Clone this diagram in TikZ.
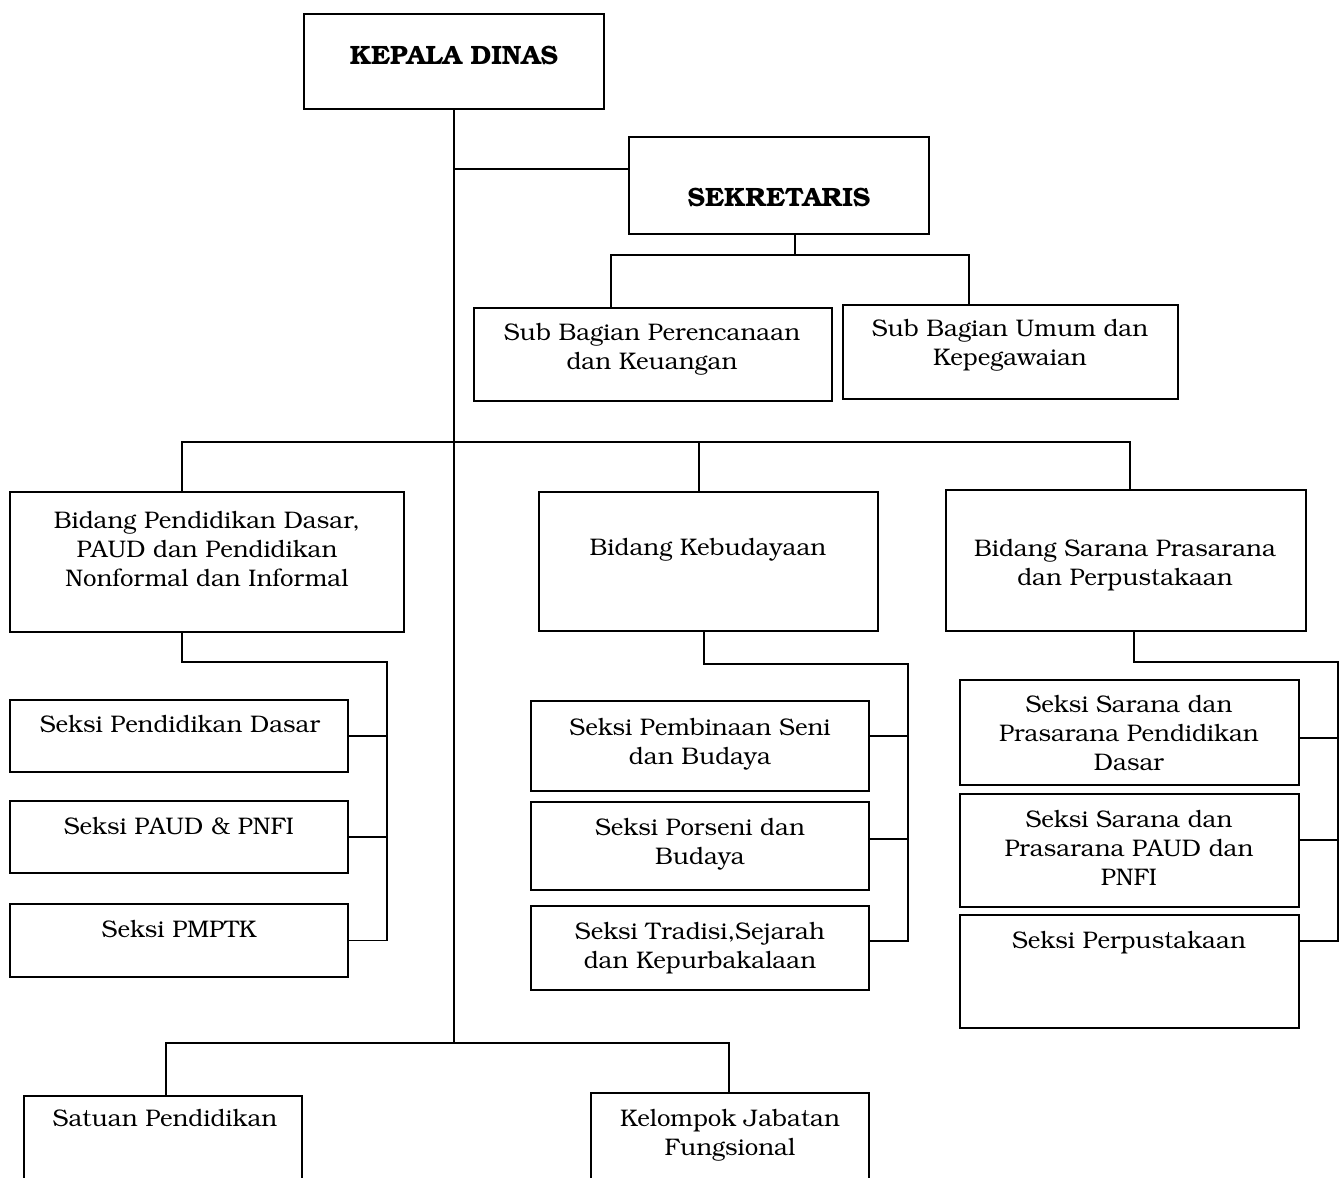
\documentclass[tikz,border=0pt]{standalone}
\usepackage[T1]{fontenc}
\usepackage{bookman}
\usetikzlibrary{fit}
\tikzset{
  box/.style={draw, line width=1.8pt, inner sep=0pt},
  lbl/.style={inner sep=0pt, align=center, anchor=base, font=\fontsize{24}{29}\selectfont},
  hd/.style={inner sep=0pt, align=center, anchor=base, font=\fontsize{26.5}{30}\selectfont\bfseries},
  ln/.style={line width=1.8pt}
}
\begin{document}
\begin{tikzpicture}[x=1pt,y=-1pt]
\useasboundingbox (0,0) rectangle (1342,1178);
\clip (0,0) rectangle (1342,1178);
% boxes
\node[box, fit={(304,14)(604,109)}] (kd) {};
\node[box, fit={(629,137)(929,234)}] (sek) {};
\node[box, fit={(474,308)(832,401)}] (sp) {};
\node[box, fit={(843,305)(1178,399)}] (su) {};
\node[box, fit={(10,492)(404,632)}] (b1) {};
\node[box, fit={(539,492)(878,631)}] (b2) {};
\node[box, fit={(946,490)(1306,631)}] (b3) {};
\node[box, fit={(10,700)(348,772)}] (s11) {};
\node[box, fit={(10,801)(348,873)}] (s12) {};
\node[box, fit={(10,904)(348,977)}] (s13) {};
\node[box, fit={(531,701)(869,791)}] (s21) {};
\node[box, fit={(531,802)(869,890)}] (s22) {};
\node[box, fit={(531,906)(869,990)}] (s23) {};
\node[box, fit={(960,680)(1299,785)}] (s31) {};
\node[box, fit={(960,794)(1299,907)}] (s32) {};
\node[box, fit={(960,915)(1299,1028)}] (s33) {};
\node[box, fit={(24,1096)(302,1200)}] (t1) {};
\node[box, fit={(591,1093)(869,1200)}] (t2) {};
% texts (anchor = baseline of the last line)
\node[hd] (kdt) at (454,64) {KEPALA DINAS};
\node[hd] (sekt) at (779,206) {SEKRETARIS};
\node[lbl] (spt) at (652,369) {Sub Bagian Perencanaan\\dan Keuangan};
\node[lbl] (sut) at (1010,365) {Sub Bagian Umum dan\\Kepegawaian};
\node[lbl] (b1t) at (207,586) {Bidang Pendidikan Dasar,\\PAUD dan Pendidikan\\Nonformal dan Informal};
\node[lbl] (b2t) at (708,555) {Bidang Kebudayaan};
\node[lbl] (b3t) at (1125,585) {Bidang Sarana Prasarana\\dan Perpustakaan};
\node[lbl] (s11t) at (180,732) {Seksi Pendidikan Dasar};
\node[lbl] (s12t) at (179,834) {Seksi PAUD \& PNFI};
\node[lbl] (s13t) at (179,937) {Seksi PMPTK};
\node[lbl] (s21t) at (700,764) {Seksi Pembinaan Seni\\dan Budaya};
\node[lbl] (s22t) at (700,864) {Seksi Porseni dan\\Budaya};
\node[lbl] (s23t) at (700,968) {Seksi Tradisi,Sejarah\\dan Kepurbakalaan};
\node[lbl] (s31t) at (1129,770) {Seksi Sarana dan\\Prasarana Pendidikan\\Dasar};
\node[lbl] (s32t) at (1129,885) {Seksi Sarana dan\\Prasarana PAUD dan\\PNFI};
\node[lbl] (s33t) at (1129,948) {Seksi Perpustakaan};
\node[lbl] (t1t) at (165,1126) {Satuan Pendidikan};
\node[lbl] (t2t) at (730,1155) {Kelompok Jabatan\\Fungsional};
% junction coordinates
\coordinate (jS) at (454,169);
\coordinate (jE) at (454,1043);
\coordinate (sekD) at (795,255);
\coordinate (sL) at (611,255);
\coordinate (sR) at (969,255);
\coordinate (bL) at (182,442);
\coordinate (bM) at (699,442);
\coordinate (bR) at (1130,442);
\coordinate (l1) at (182,662);
\coordinate (lR) at (387,662);
\coordinate (m1) at (704,664);
\coordinate (mR) at (908,664);
\coordinate (m21) at (908,736);
\coordinate (m22) at (908,839);
\coordinate (m23) at (908,941);
\coordinate (r1) at (1134,662);
\coordinate (rR) at (1338,662);
\coordinate (r31) at (1338,738);
\coordinate (r32) at (1338,840);
\coordinate (r33) at (1338,941);
\coordinate (eL) at (166,1043);
\coordinate (eR) at (729,1043);
% connectors
\draw[ln] (kd.south) -- (jE);
\draw[ln] (jS) -- (sek.west |- jS);
\draw[ln] (sek.south -| sekD) -- (sekD);
\draw[ln] (sp.north -| sL) -- (sL) -- (sR) -- (su.north -| sR);
\draw[ln] (b1.north -| bL) -- (bL) -- (bR) -- (b3.north -| bR);
\draw[ln] (bM) -- (b2.north -| bM);
\draw[ln] (b1.south -| l1) -- (l1) -- (lR) |- (s13.east);
\draw[ln] (s11.east) -- (s11.east -| lR);
\draw[ln] (s12.east) -- (s12.east -| lR);
\draw[ln] (b2.south -| m1) -- (m1) -- (mR) -- (m23) -- (s23.east |- m23);
\draw[ln] (m21) -- (s21.east |- m21);
\draw[ln] (m22) -- (s22.east |- m22);
\draw[ln] (b3.south -| r1) -- (r1) -- (rR) -- (r33) -- (s33.east |- r33);
\draw[ln] (r31) -- (s31.east |- r31);
\draw[ln] (r32) -- (s32.east |- r32);
\draw[ln] (t1.north -| eL) -- (eL) -- (eR) -- (t2.north -| eR);
\end{tikzpicture}
\end{document}
